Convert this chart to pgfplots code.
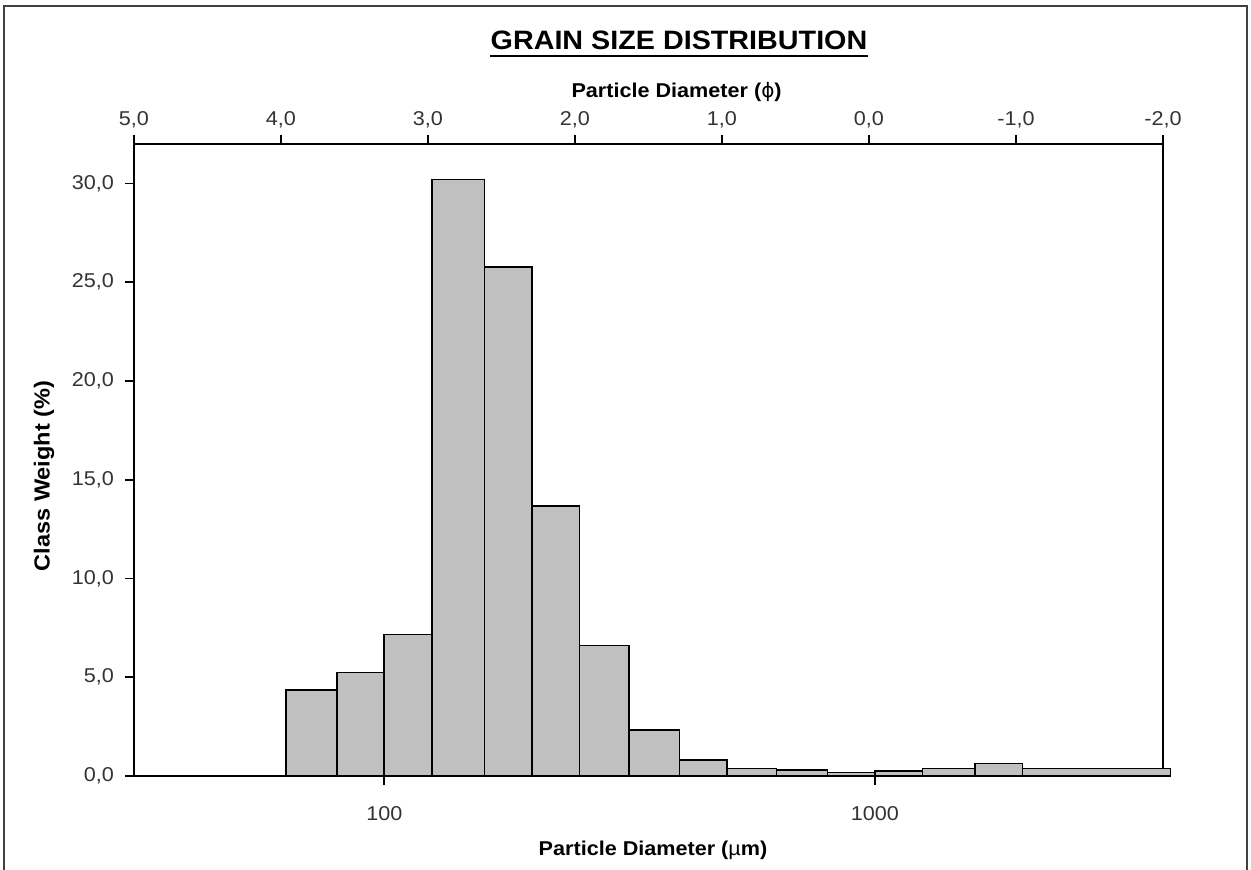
\documentclass[border=0pt]{standalone}
\usepackage{fontspec}
\setmainfont{Liberation Sans}[FakeStretch=1.08]
\newfontfamily\dejavu{DejaVu Sans}
\usepackage{pgfplots}
\pgfplotsset{compat=1.18}
\definecolor{barfill}{HTML}{C0C0C0}
\begin{document}
\begin{tikzpicture}
\path[use as bounding box] (0,0) rectangle (625.5pt,-435pt);
\draw[black!75, line width=0.8pt] (2pt,-3pt) rectangle (623.5pt,-445pt);
\begin{axis}[
  at={(67pt,-388pt)}, anchor=south west,
  scale only axis, width=514.5pt, height=316pt,
  xmode=log, xmin=30.9, xmax=3866, ymin=0, ymax=32,
  xtick={100,1000}, xticklabels={100,1000}, xminorticks=false,
  ytick={0,5,10,15,20,25,30},
  xtick pos=left, ytick pos=left,
  tick align=outside,
  major tick length=4.5pt,
  axis line style={line width=0.8pt},
  every tick/.append style={black, line width=0.8pt},
  /pgf/number format/.cd, fixed, fixed zerofill, precision=1, use comma, assume math mode=true,
  /pgfplots/.cd,
  tick label style={font=\fontsize{10}{12}\selectfont, text=black!80},
  xticklabel style={yshift=-7pt},
  yticklabel style={xshift=-2pt},
  clip=false,
]
\addplot[ybar interval, fill=barfill, draw=black, line width=0.8pt] coordinates {
(63,4.35) (80,5.25) (100,7.17) (125,30.2) (160,25.76) (200,13.66) (250,6.61)
(315,2.33) (400,0.81) (500,0.38) (630,0.29) (800,0.17) (1000,0.24) (1250,0.37)
(1600,0.64) (2000,0.37) (4000,0.37)};
\end{axis}
\begin{axis}[
  at={(67pt,-388pt)}, anchor=south west,
  scale only axis, width=514.5pt, height=316pt,
  xmin=-2, xmax=5, x dir=reverse, ymin=0, ymax=32,
  axis x line*=top, axis y line=none,
  xtick={-2,-1,0,1,2,3,4,5},
  xticklabels={{-2,0},{-1,0},{0,0},{1,0},{2,0},{3,0},{4,0},{5,0}},
  tick align=outside,
  major tick length=4.5pt,
  axis line style={line width=0.8pt},
  every tick/.append style={black, line width=0.8pt},
  tick label style={font=\fontsize{10}{12}\selectfont, text=black!80},
]
\end{axis}
\node[font=\bfseries\fontsize{13.3}{15}\selectfont, inner sep=0pt, anchor=base] (t) at (339.5pt,-25pt) {GRAIN SIZE DISTRIBUTION};
\draw[line width=1.2pt] ([yshift=-3pt]t.base west) -- ([yshift=-3pt]t.base east);
\node[font=\bfseries\fontsize{10}{12}\selectfont, inner sep=0pt, anchor=base] at (338.3pt,-49pt) {Particle Diameter ({\dejavu\mdseries ϕ})};
\node[font=\bfseries\fontsize{10}{12}\selectfont, inner sep=0pt, anchor=base] at (326.5pt,-427.5pt) {Particle Diameter ({\mdseries µ}m)};
\node[font=\bfseries\fontsize{10.9}{13}\selectfont, inner sep=0pt, rotate=90] at (22pt,-238pt) {Class Weight (\%)};
\end{tikzpicture}
\end{document}
